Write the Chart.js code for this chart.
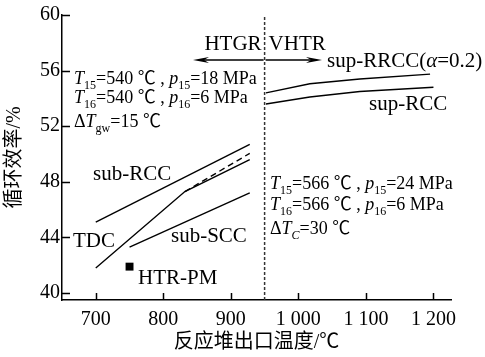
<!DOCTYPE html>
<html>
<head>
<meta charset="utf-8">
<script src="https://cdn.jsdelivr.net/npm/chart.js@4.4.1/dist/chart.umd.min.js"></script>
<style>
  html, body { margin: 0; padding: 0; background: #fff; }
  #wrap { width: 485px; height: 357px; }
</style>
</head>
<body>
<div id="wrap"><canvas id="chart" width="485" height="357"></canvas></div>
<script>
// data (reactor outlet temperature in C, cycle efficiency in %)
const subRccT = [700, 928];
const subRccEff = [45.1, 50.7];
const tdcT = [700, 832, 928];
const tdcEff = [41.8, 47.3, 49.6];
const tdcDashT = [832, 928];
const tdcDashEff = [47.3, 50.05];
const subSccT = [750, 928];
const subSccEff = [43.3, 47.2];
const htrPmT = [750];
const htrPmEff = [41.9];
const supRrccT = [952, 1017, 1091, 1195];
const supRrccEff = [54.4, 55.05, 55.4, 55.75];
const supRccT = [952, 1017, 1091, 1200];
const supRccEff = [53.6, 54.1, 54.5, 54.8];
const boundaryT = 950;

const xTicks = [700, 800, 900, 1000, 1100, 1200];
const yTicks = [40, 44, 48, 52, 56, 60];
const xMin = 650, xMax = 1226;
const yMin = 39.5, yMax = 60;

const SERIF = '"Liberation Serif", "Noto Sans CJK SC", serif';

function pts(xs, ys) {
  return xs.map((x, i) => ({ x: x, y: ys[i] }));
}

function lineSet(xs, ys, dash) {
  return {
    data: pts(xs, ys),
    showLine: true,
    borderColor: '#000',
    borderWidth: 1.4,
    borderDash: dash || [],
    pointRadius: 0,
    tension: 0
  };
}

// text with italic letters and subscripts
function drawRuns(ctx, x, y, runs, size) {
  ctx.textBaseline = 'alphabetic';
  ctx.textAlign = 'left';
  runs.forEach(r => {
    const s = r.sub ? Math.round(size * 0.68) : size;
    ctx.font = (r.it ? 'italic ' : '') + s + 'px ' + SERIF;
    ctx.fillText(r.t, x, r.sub ? y + size * 0.3 : y);
    x += ctx.measureText(r.t).width;
  });
}

function arrow(ctx, x0, x1, y) {
  const dir = Math.sign(x1 - x0);
  ctx.beginPath();
  ctx.moveTo(x0, y);
  ctx.lineTo(x1 - dir * 8, y);
  ctx.stroke();
  ctx.beginPath();
  ctx.moveTo(x1, y);
  ctx.lineTo(x1 - dir * 16, y - 3);
  ctx.lineTo(x1 - dir * 11, y);
  ctx.lineTo(x1 - dir * 16, y + 3);
  ctx.closePath();
  ctx.fill();
}

const annotations = {
  id: 'annotations',
  afterDraw(chart) {
    const ctx = chart.ctx;
    const xs = chart.scales.x, ys = chart.scales.y;
    const area = chart.chartArea;
    ctx.save();
    ctx.fillStyle = '#000';
    ctx.strokeStyle = '#000';
    ctx.lineWidth = 1.5;

    // inward tick marks
    ctx.beginPath();
    xTicks.forEach(v => {
      const p = Math.round(xs.getPixelForValue(v)) + 0.5;
      ctx.moveTo(p, area.bottom);
      ctx.lineTo(p, area.bottom - 7);
    });
    yTicks.forEach(v => {
      const p = Math.round(ys.getPixelForValue(v)) + 0.5;
      ctx.moveTo(area.left, p);
      ctx.lineTo(area.left + 8, p);
    });
    ctx.stroke();

    // HTGR / VHTR arrows
    const bx = xs.getPixelForValue(boundaryT);
    ctx.lineWidth = 1.3;
    arrow(ctx, bx - 1, 193, 60);
    arrow(ctx, bx + 1, 322, 60);

    ctx.font = '21px ' + SERIF;
    ctx.textBaseline = 'alphabetic';
    ctx.textAlign = 'right';
    ctx.fillText('HTGR', bx - 3, 50);
    ctx.textAlign = 'left';
    ctx.fillText('VHTR', bx + 4, 50);

    drawRuns(ctx, 327, 67, [{ t: 'sup-RRCC(' }, { t: 'α', it: true }, { t: '=0.2)' }], 21);
    drawRuns(ctx, 369, 110, [{ t: 'sup-RCC' }], 21);
    drawRuns(ctx, 93, 180, [{ t: 'sub-RCC' }], 21);
    drawRuns(ctx, 73, 247, [{ t: 'TDC' }], 21);
    drawRuns(ctx, 171, 242, [{ t: 'sub-SCC' }], 21);
    drawRuns(ctx, 138, 284, [{ t: 'HTR-PM' }], 21);

    // parameter blocks
    drawRuns(ctx, 74, 84, [{ t: 'T', it: true }, { t: '15', sub: true }, { t: '=540 ℃ , ' },
      { t: 'p', it: true }, { t: '15', sub: true }, { t: '=18 MPa' }], 18);
    drawRuns(ctx, 74, 103, [{ t: 'T', it: true }, { t: '16', sub: true }, { t: '=540 ℃ , ' },
      { t: 'p', it: true }, { t: '16', sub: true }, { t: '=6 MPa' }], 18);
    drawRuns(ctx, 74, 127, [{ t: 'Δ' }, { t: 'T', it: true }, { t: 'gw', sub: true }, { t: '=15 ℃' }], 18);

    drawRuns(ctx, 270, 189, [{ t: 'T', it: true }, { t: '15', sub: true }, { t: '=566 ℃ , ' },
      { t: 'p', it: true }, { t: '15', sub: true }, { t: '=24 MPa' }], 18);
    drawRuns(ctx, 270, 210, [{ t: 'T', it: true }, { t: '16', sub: true }, { t: '=566 ℃ , ' },
      { t: 'p', it: true }, { t: '16', sub: true }, { t: '=6 MPa' }], 18);
    drawRuns(ctx, 270, 234, [{ t: 'Δ' }, { t: 'T', it: true }, { t: 'C', it: true, sub: true }, { t: '=30 ℃' }], 18);

    ctx.restore();
  }
};

new Chart(document.getElementById('chart'), {
  type: 'scatter',
  data: {
    datasets: [
      {
        data: [{ x: boundaryT, y: yMin }, { x: boundaryT, y: yMax }],
        showLine: true,
        borderColor: '#333',
        borderWidth: 1.5,
        borderDash: [3, 2],
        pointRadius: 0
      },
      lineSet(subRccT, subRccEff),
      lineSet(tdcT, tdcEff),
      lineSet(tdcDashT, tdcDashEff, [6, 4]),
      lineSet(subSccT, subSccEff),
      lineSet(supRrccT, supRrccEff),
      lineSet(supRccT, supRccEff),
      {
        data: pts(htrPmT, htrPmEff),
        pointStyle: 'rect',
        pointRadius: 5.6,
        backgroundColor: '#000',
        borderColor: '#000',
        borderWidth: 0
      }
    ]
  },
  options: {
    responsive: false,
    animation: false,
    layout: { padding: { top: 15, right: 34, left: 0, bottom: 0 } },
    plugins: {
      legend: { display: false },
      tooltip: { enabled: false }
    },
    scales: {
      x: {
        type: 'linear',
        min: xMin,
        max: xMax,
        afterBuildTicks: s => { s.ticks = xTicks.map(v => ({ value: v })); },
        afterFit: s => { s.height = 57; },
        grid: { display: false, drawTicks: false },
        border: { display: true, color: '#000', width: 1.5 },
        ticks: {
          color: '#000',
          padding: 8,
          font: { family: SERIF, size: 20 },
          callback: v => v >= 1000 ? Math.floor(v / 1000) + ' ' + String(v % 1000).padStart(3, '0') : String(v)
        },
        title: {
          display: true,
          text: '反应堆出口温度/℃',
          color: '#000',
          font: { family: SERIF, size: 20 },
          padding: { top: 0, bottom: 2 }
        }
      },
      y: {
        type: 'linear',
        min: yMin,
        max: yMax,
        afterBuildTicks: s => { s.ticks = yTicks.map(v => ({ value: v })); },
        afterFit: s => { s.width = 62; },
        grid: { display: false, drawTicks: false },
        border: { display: true, color: '#000', width: 1.5 },
        ticks: {
          color: '#000',
          padding: 2,
          font: { family: SERIF, size: 20 }
        },
        title: {
          display: true,
          text: '循环效率/%',
          color: '#000',
          font: { family: SERIF, size: 20 },
          padding: { top: 3, bottom: 0 }
        }
      }
    }
  },
  plugins: [annotations]
});
</script>
</body>
</html>
